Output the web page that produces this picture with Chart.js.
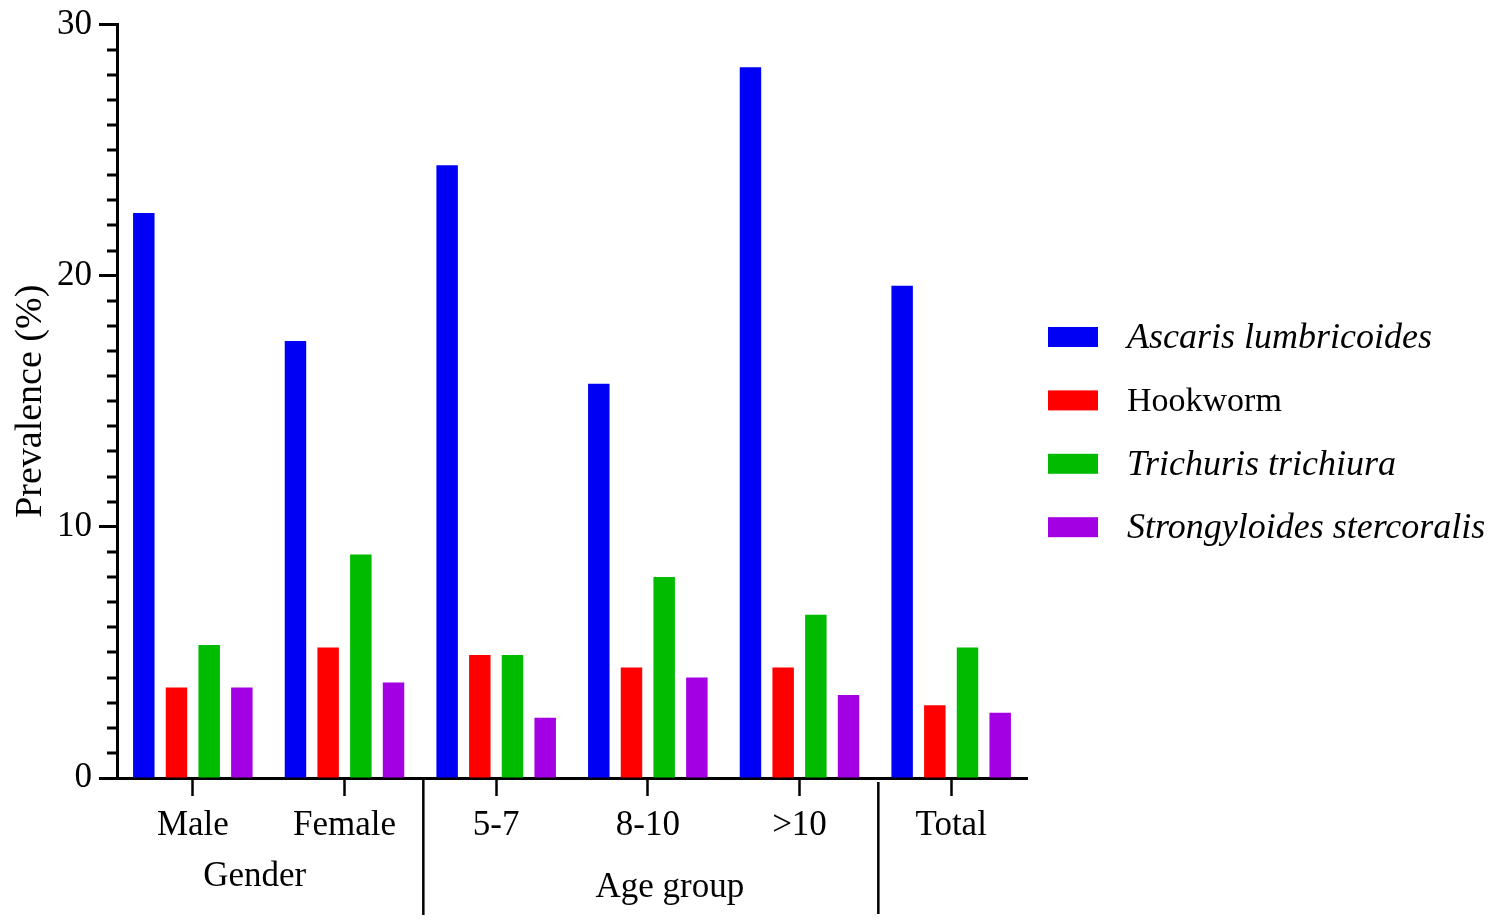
<!DOCTYPE html>
<html>
<head>
<meta charset="utf-8">
<script src="https://cdn.jsdelivr.net/npm/chart.js@4/dist/chart.umd.min.js"></script>
<style>
  html, body { margin: 0; padding: 0; background: #fff; }
  #wrap { width: 1499px; height: 923px; position: relative; }
</style>
</head>
<body>
<div id="wrap"><canvas id="PrevalenceChart"></canvas></div>
<script>
var categories = ['Male', 'Female', '5-7', '8-10', '>10', 'Total'];
var speciesNames = ['Ascaris lumbricoides', 'Hookworm', 'Trichuris trichiura', 'Strongyloides stercoralis'];

var ascaris = [22.5, 17.4, 24.4, 15.7, 28.3, 19.6];
var hookworm = [3.6, 5.2, 4.9, 4.4, 4.4, 2.9];
var trichuris = [5.3, 8.9, 4.9, 8.0, 6.5, 5.2];
var strongyloides = [3.6, 3.8, 2.4, 4.0, 3.3, 2.6];

var groupNames = ['Gender', 'Age group'];
var yTicks = [0, 10, 20, 30];

var barColors = ['#0000f5', '#ff0000', '#00bb00', '#a300e3'];
var italicName = [true, false, true, true];
var serif = '"Liberation Serif", "Times New Roman", serif';

// minor ticks, group separators, group names and the legend
var extrasPlugin = {
  id: 'extras',
  afterDraw: function (chart) {
    var ctx = chart.ctx;
    var x = chart.scales.x;
    var y = chart.scales.y;
    var bottom = chart.chartArea.bottom;
    ctx.save();
    ctx.strokeStyle = '#000';
    ctx.lineWidth = 3;
    for (var v = 1; v < 30; v++) {
      if (v % 10 === 0) continue;
      var py = Math.round(y.getPixelForValue(v));
      ctx.beginPath();
      ctx.moveTo(y.right - 10, py);
      ctx.lineTo(y.right, py);
      ctx.stroke();
    }

    ctx.lineWidth = 2.5;
    var sep1 = (x.getPixelForValue(1) + x.getPixelForValue(2)) / 2 + 3;
    var sep2 = (x.getPixelForValue(4) + x.getPixelForValue(5)) / 2 + 3;
    ctx.beginPath();
    ctx.moveTo(sep1, bottom);
    ctx.lineTo(sep1, bottom + 137);
    ctx.moveTo(sep2, bottom + 4);
    ctx.lineTo(sep2, bottom + 136);
    ctx.stroke();

    ctx.fillStyle = '#000';
    ctx.font = '35px ' + serif;
    ctx.textAlign = 'center';
    ctx.textBaseline = 'middle';
    var gx = (x.getPixelForValue(0) + x.getPixelForValue(1)) / 2 - 14;
    ctx.fillText(groupNames[0], gx, bottom + 99);
    ctx.fillText(groupNames[1], x.getPixelForValue(3) + 22, bottom + 110);

    // legend
    ctx.textAlign = 'left';
    ctx.textBaseline = 'alphabetic';
    chart.data.datasets.forEach(function (ds, i) {
      var cy = 337 + i * 63.4;
      ctx.fillStyle = ds.backgroundColor;
      ctx.fillRect(1048, cy - 10, 50, 20);
      ctx.fillStyle = '#000';
      ctx.font = (italicName[i] ? 'italic 36px ' : '34px ') + serif;
      ctx.fillText(ds.label, 1127, cy + 11);
    });
    ctx.restore();
  }
};

var seriesValues = [ascaris, hookworm, trichuris, strongyloides];
var datasets = seriesValues.map(function (vals, i) {
  return {
    label: speciesNames[i],
    data: vals,
    backgroundColor: barColors[i],
    borderWidth: 0,
    categoryPercentage: 0.862,
    barPercentage: 0.657
  };
});

var config = {
  type: 'bar',
  data: {
    labels: categories,
    datasets: datasets
  },
  options: {
    responsive: true,
    maintainAspectRatio: false,
    devicePixelRatio: 1,
    animation: false,
    layout: { padding: { left: 0, right: 472, top: 24, bottom: 0 } },
    plugins: {
      legend: { display: false },
      tooltip: { enabled: false }
    },
    scales: {
      x: {
        afterFit: function (scale) { scale.height = 145; },
        grid: {
          display: true,
          drawOnChartArea: false,
          offset: false,
          tickLength: 18,
          tickWidth: 2.5,
          tickColor: '#000'
        },
        border: { display: true, color: '#000', width: 3 },
        ticks: {
          color: '#000',
          padding: 9,
          font: { family: serif, size: 35 }
        }
      },
      y: {
        min: 0,
        max: 30,
        afterFit: function (scale) { scale.width = 117; },
        afterBuildTicks: function (scale) {
          var t = [];
          for (var v = 0; v <= 30; v++) t.push({ value: v });
          scale.ticks = t;
        },
        grid: {
          display: true,
          drawOnChartArea: false,
          tickLength: 18,
          tickWidth: 3,
          tickColor: function (c) {
            return c.tick && c.tick.value % 10 === 0 ? '#000' : 'rgba(0,0,0,0)';
          }
        },
        border: { display: true, color: '#000', width: 3 },
        title: {
          display: true,
          text: 'Prevalence (%)',
          color: '#000',
          padding: { top: 8, bottom: 0 },
          font: { family: serif, size: 38 }
        },
        ticks: {
          autoSkip: false,
          color: '#000',
          padding: 7,
          font: { family: serif, size: 35, lineHeight: 1 },
          callback: function (v) { return yTicks.indexOf(v) >= 0 ? v : ''; }
        }
      }
    }
  },
  plugins: [extrasPlugin]
};

var ctx = document.getElementById('PrevalenceChart').getContext('2d');
window.prevChart = new Chart(ctx, config);
</script>
</body>
</html>
